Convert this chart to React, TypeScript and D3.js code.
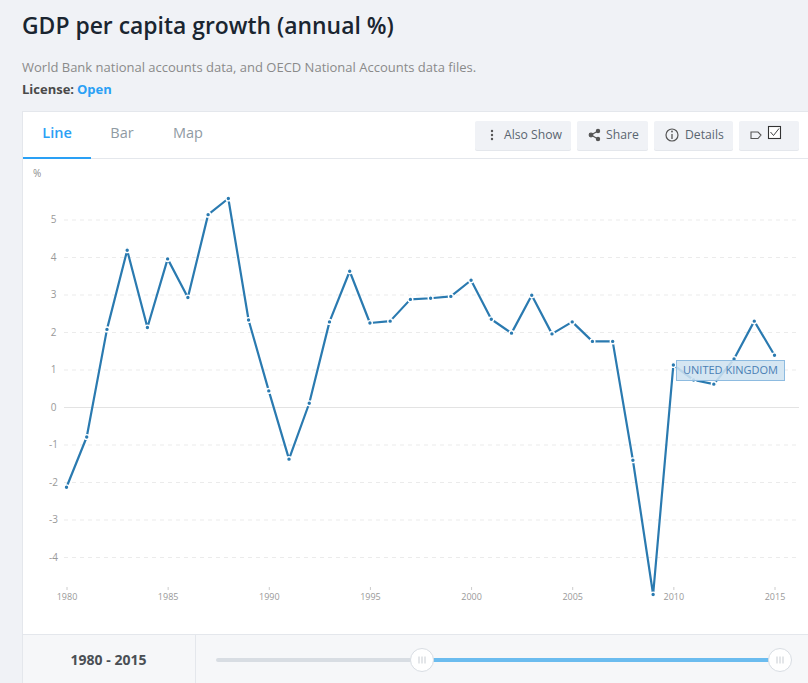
import React, { useEffect, useRef } from "react";
import * as d3 from "d3";

const years = d3.range(1980, 2016);
const growth = [
  -2.14, -0.8, 2.07, 4.18, 2.12, 3.95, 2.92, 5.13, 5.56, 2.32, 0.43, -1.39, 0.1, 2.27, 3.62, 2.24, 2.29, 2.87,
  2.9, 2.95, 3.38, 2.34, 1.97, 2.98, 1.95, 2.27, 1.75, 1.75, -1.42, -5.0, 1.12, 0.72, 0.61, 1.28, 2.29, 1.38,
];
const yTicks = [-4, -3, -2, -1, 0, 1, 2, 3, 4, 5];
const xTicks = [1980, 1985, 1990, 1995, 2000, 2005, 2010, 2015];
const tabs = ["Line", "Bar", "Map"];
const seriesName = "UNITED KINGDOM";

const FONT = "'Open Sans', sans-serif";

const App: React.FC = () => {
  const axisRef = useRef<SVGGElement | null>(null);

  const x = d3.scaleLinear().domain([1980, 2015]).range([66.5, 774.5]);
  const y = d3.scaleLinear().domain([-4, 5]).range([557, 219.5]);

  const line = d3
    .line<number>()
    .x((_, i) => x(years[i]))
    .y((d) => y(d));

  useEffect(() => {
    const g = d3.select(axisRef.current);
    g.selectAll("*").remove();

    // x axis: ticks and labels only
    const xAxis = g
      .append("g")
      .attr("transform", "translate(0,587)")
      .call(
        d3
          .axisBottom(x)
          .tickValues(xTicks)
          .tickFormat((d) => String(d))
          .tickSize(3)
          .tickPadding(4)
      );
    xAxis.select(".domain").remove();
    xAxis.selectAll("line").attr("stroke", "#ccc");
    xAxis.selectAll("text").attr("fill", "#999").attr("font-size", 9).attr("font-family", FONT);

    // y axis with dashed grid
    const yAxis = g
      .append("g")
      .attr("transform", "translate(64,0)")
      .call(
        d3
          .axisRight(y)
          .tickValues(yTicks)
          .tickFormat((d) => String(d))
          .tickSize(735)
          .tickPadding(0)
      );
    yAxis.select(".domain").remove();
    yAxis
      .selectAll("line")
      .attr("stroke", (d) => (d === 0 ? "#e3e3e3" : "#ebebeb"))
      .attr("stroke-dasharray", (d) => (d === 0 ? null : "4 4"));
    yAxis
      .selectAll("text")
      .attr("x", -10.5)
      .attr("text-anchor", "middle")
      .attr("fill", "#999")
      .attr("font-size", 10)
      .attr("font-family", FONT);
  }, []);

  return (
    <svg
      width={808}
      height={683}
      style={{ position: "absolute", left: 0, top: 0, display: "block" }}
      fontFamily={FONT}
    >
      <rect width={808} height={683} fill="#f0f2f6" />

      <text x={22} y={34} fontSize={22.9} fontWeight={600} fill="#1a2530">
        GDP per capita growth (annual %)
      </text>
      <text x={22} y={72} fontSize={13} fill="#8a8a8a">
        World Bank national accounts data, and OECD National Accounts data files.
      </text>
      <text x={22} y={94} fontSize={13} fontWeight={700} fill="#4a4a4a">
        License:
      </text>
      <text x={77} y={94} fontSize={13} fontWeight={700} fill="#2aa0f5">
        Open
      </text>

      {/* panel */}
      <rect x={22.5} y={111.5} width={800} height={590} fill="#fff" stroke="#e4e7ec" />
      <line x1={23} x2={808} y1={158.5} y2={158.5} stroke="#e4e7ec" />
      <rect x={23} y={157} width={68} height={2} fill="#2aa0f5" />

      {tabs.map((t, i) => (
        <text
          key={t}
          x={[57, 122, 188][i]}
          y={138}
          fontSize={14.5}
          textAnchor="middle"
          fill={i === 0 ? "#2aa0f5" : "#8f9aa3"}
          fontWeight={i === 0 ? 600 : 400}
        >
          {t}
        </text>
      ))}

      {/* toolbar buttons */}
      {[
        [475, 96],
        [577, 71],
        [654, 79],
        [739, 60],
      ].map(([bx, bw]) => (
        <g key={bx}>
          <rect x={bx} y={122} width={bw} height={29} rx={2} fill="#e4e7ec" />
          <rect x={bx} y={121} width={bw} height={29} rx={2} fill="#f0f2f6" />
        </g>
      ))}
      <g fill="#555">
        <circle cx={492} cy={131} r={1.2} />
        <circle cx={492} cy={135} r={1.2} />
        <circle cx={492} cy={139} r={1.2} />
      </g>
      <text x={504} y={139} fontSize={12.2} fill="#5a6570">
        Also Show
      </text>
      <g stroke="#555" strokeWidth={1.2} fill="#555">
        <line x1={591} y1={135} x2={598} y2={131} />
        <line x1={591} y1={135} x2={598} y2={139} />
        <circle cx={591} cy={135} r={1.8} />
        <circle cx={598} cy={131} r={1.6} />
        <circle cx={598} cy={139} r={1.6} />
      </g>
      <text x={606} y={139} fontSize={12.2} fill="#5a6570">
        Share
      </text>
      <circle cx={672} cy={135} r={6} fill="none" stroke="#555" strokeWidth={1.2} />
      <line x1={672} x2={672} y1={134} y2={139} stroke="#555" strokeWidth={1.3} />
      <circle cx={672} cy={131.5} r={0.9} fill="#555" />
      <text x={685} y={139} fontSize={12.2} fill="#5a6570">
        Details
      </text>
      <path d="M751 132 H758 L761 135 L758 138.5 H751 Z" fill="none" stroke="#555" strokeWidth={1.1} />
      <rect x={768.5} y={126.5} width={12} height={12} fill="#fff" stroke="#333" strokeWidth={1.1} />
      <path d="M770.5 132 L773.5 135.5 L779 128.5" fill="none" stroke="#444" strokeWidth={1} />

      <text x={33} y={177} fontSize={10} fill="#8c8c8c">
        %
      </text>

      <g ref={axisRef} />

      <path
        d={line(growth) ?? ""}
        fill="none"
        stroke="#2a7ab0"
        strokeWidth={2.2}
        strokeLinejoin="round"
      />
      {growth.map((d, i) => (
        <circle key={years[i]} cx={x(years[i])} cy={y(d)} r={2.4} fill="#2a7ab0" stroke="#fff" strokeWidth={1.4} />
      ))}

      {/* series label */}
      <rect
        x={676.5}
        y={360.5}
        width={108}
        height={20}
        fill="#cfe2f0"
        fillOpacity={0.88}
        stroke="#8dbbe0"
      />
      <text x={730.5} y={374} fontSize={11} textAnchor="middle" fill="#4a7fb5">
        {seriesName}
      </text>

      {/* range footer */}
      <rect x={23} y={634} width={785} height={49} fill="#f6f7f9" />
      <line x1={23} x2={808} y1={634.5} y2={634.5} stroke="#e4e7ec" />
      <line x1={195.5} x2={195.5} y1={634} y2={683} stroke="#e4e7ec" />
      <text x={108.5} y={665} fontSize={14} fontWeight={700} textAnchor="middle" fill="#4a4f55">
        1980 - 2015
      </text>
      <line x1={218} x2={422} y1={660} y2={660} stroke="#d8dde3" strokeWidth={4} strokeLinecap="round" />
      <line x1={422} x2={780} y1={660} y2={660} stroke="#6bbcef" strokeWidth={4} />
      {[422, 780].map((cx) => (
        <g key={cx}>
          <circle cx={cx} cy={660} r={11.5} fill="#fff" stroke="#d8dde3" />
          {[-3, 0, 3].map((dx) => (
            <line key={dx} x1={cx + dx} x2={cx + dx} y1={656.5} y2={663.5} stroke="#c8cdd3" />
          ))}
        </g>
      ))}
    </svg>
  );
};

export default App;
